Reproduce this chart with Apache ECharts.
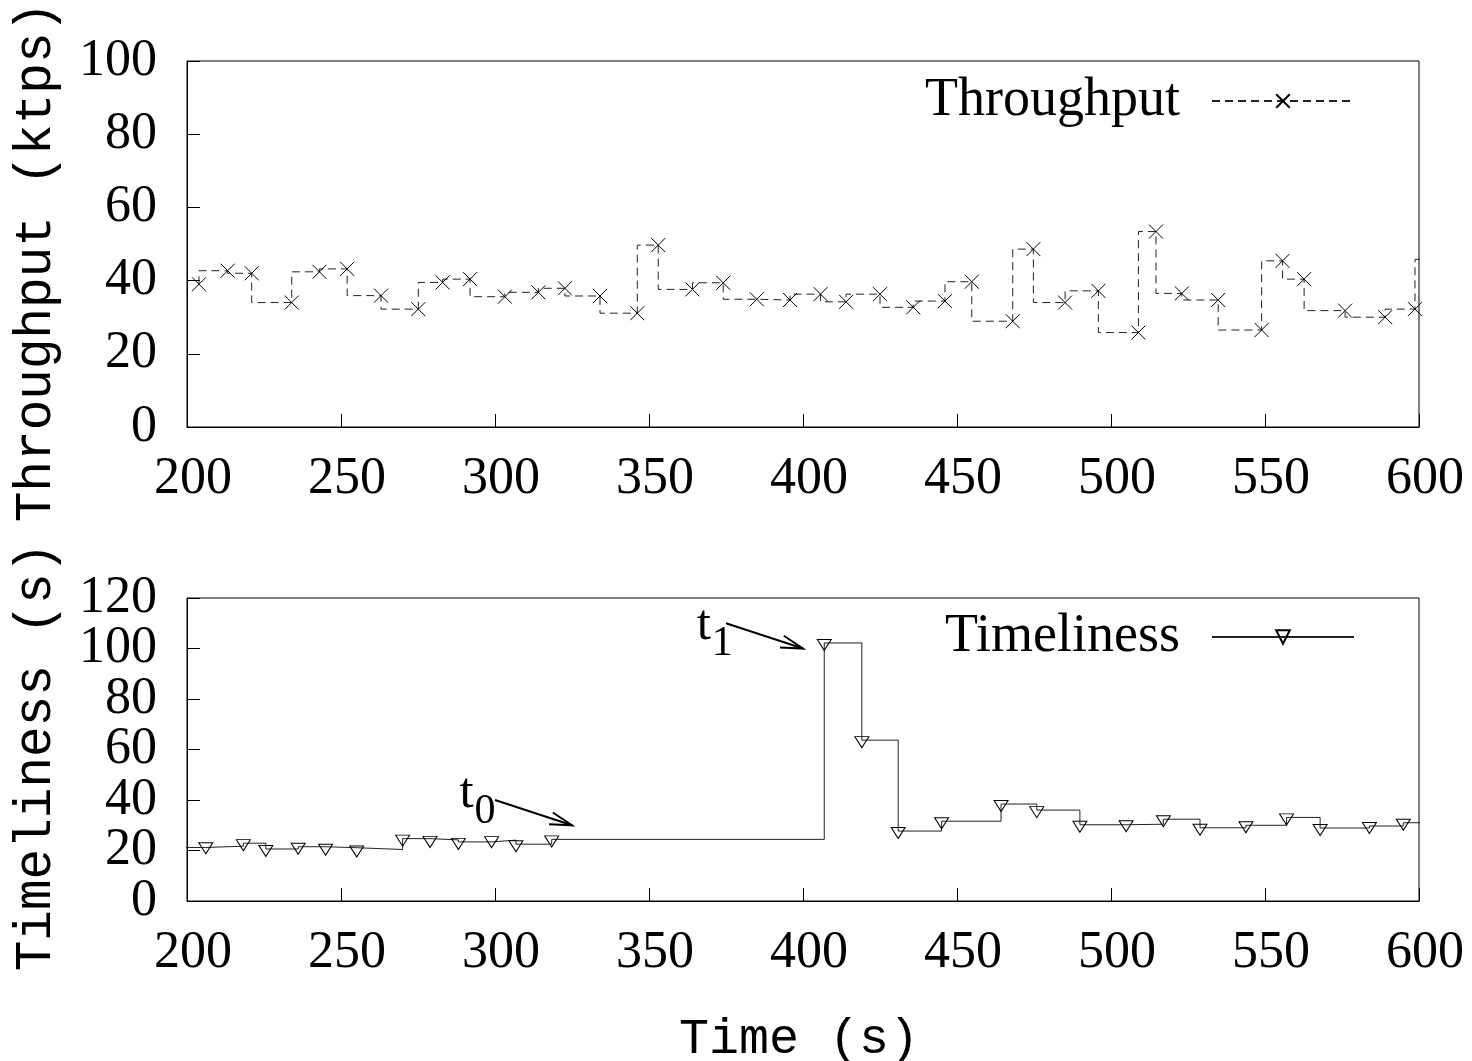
<!DOCTYPE html>
<html><head><meta charset="utf-8">
<script src="https://cdn.jsdelivr.net/npm/echarts@6/dist/echarts.min.js"></script>
<style>html,body{margin:0;padding:0;background:#fff}#c{width:1472px;height:1061px}</style>
</head><body><div id="c"></div>
<script>
// ---- data ----
const throughputTime = [203.9,213.2,221.0,234.0,243.0,252.0,263.0,275.1,283.0,291.9,303.2,314.1,322.7,334.1,346.2,353.0,364.1,374.1,385.0,395.8,405.7,414.0,425.0,435.8,446.1,454.8,468.1,474.8,485.1,495.9,508.9,514.6,523.0,534.8,548.9,555.7,562.7,576.0,589.0,598.7,608.0];
const throughputValues = [39.0,42.7,42.0,34.0,42.4,43.2,35.9,32.2,39.5,40.4,35.6,36.8,37.9,35.8,31.1,49.7,37.6,39.4,34.9,34.7,36.3,34.2,36.3,32.7,34.4,39.7,28.9,48.6,34.0,37.2,25.8,53.4,36.5,34.7,26.5,45.4,40.4,31.8,30.0,32.2,45.8];
const timelinessTime = [195.0,206.1,218.3,225.6,236.1,245.0,255.1,270.0,278.9,288.1,298.9,306.8,318.4,406.9,419.1,430.9,445.0,464.3,475.9,489.9,504.9,517.0,528.9,543.8,557.0,567.9,583.9,594.9,606.0];
const timelinessValues = [21.2,21.7,22.9,20.6,21.5,21.1,20.4,24.7,24.2,23.4,24.1,22.5,24.4,102.2,63.7,27.7,31.6,38.4,36.0,30.2,30.4,32.4,29.0,30.0,33.1,28.9,29.7,31.0,31.0];
const xTickRange = [200, 600, 50];
const throughputTickRange = [0, 100, 20];
const timelinessTickRange = [0, 120, 20];
const seriesNames = ['Throughput', 'Timeliness'];
const axisTitles = ['Throughput (ktps)', 'Timeliness (s)', 'Time (s)'];
// annotations in data coordinates: label position, arrow from, arrow to
const annotT0 = {grid:1, label:[288.5, 42.4], sub:'0', from:[300, 40], to:[325, 30]};
const annotT1 = {grid:1, label:[365.5, 108.9], sub:'1', from:[375, 110], to:[400, 100]};

const SERIF = '"Liberation Serif", "Times New Roman", serif';
const MONO = '"Liberation Mono", "DejaVu Sans Mono", monospace';

const chart = echarts.init(document.getElementById('c'), null, {renderer:'canvas'});

function xAxisCfg(gi){
  return {type:'value', gridIndex:gi, min:xTickRange[0], max:xTickRange[1], interval:xTickRange[2],
    axisLine:{show:true, lineStyle:{color:'#000', width:1}},
    axisTick:{show:true, inside:true, length:13, lineStyle:{color:'#000', width:1}},
    axisLabel:{margin:30, fontSize:52, fontFamily:SERIF, color:'#000', lineHeight:44,
      padding:[0,0,0,12]},
    splitLine:{show:false}};
}
// labelFilter: which tick values this axis prints (the bottom axis is split over two
// overlaid axes so that the library's label-overlap thinning keeps all of them)
function yAxisCfg(gi, r, labelFilter, showLine, forceEnds){
  return {type:'value', gridIndex:gi, position:'left', min:r[0], max:r[1], interval:r[2],
    axisLine:{show:showLine, lineStyle:{color:'#000', width:1}},
    axisTick:{show:showLine, inside:true, length:13, lineStyle:{color:'#000', width:1}},
    axisLabel:{margin:30, fontSize:52, fontFamily:SERIF, color:'#000',
      showMinLabel:forceEnds, showMaxLabel:forceEnds, hideOverlap:false,
      formatter: v => labelFilter(v) ? String(v) : ''},
    splitLine:{show:false}};
}
const xMarker = 'path://M0,0L10,10M10,0L0,10';
const triMarker = 'path://M0,0L12,0L6,10Z';

const option = {
  animation:false,
  backgroundColor:'#fff',
  grid:[
    {left:187, top:61, width:1232, height:366, show:true, borderColor:'#000', borderWidth:1, backgroundColor:'transparent'},
    {left:187, top:598, width:1232, height:303, show:true, borderColor:'#000', borderWidth:1, backgroundColor:'transparent'}
  ],
  xAxis:[xAxisCfg(0), xAxisCfg(1)],
  yAxis:[
    yAxisCfg(0, throughputTickRange, v => true, true, true),
    yAxisCfg(1, timelinessTickRange, v => v % 40 === 0, true, true),
    yAxisCfg(1, timelinessTickRange, v => v % 40 !== 0, false, false)
  ],
  legend:[
    {data:[seriesNames[0]], right:117, top:74, padding:0, align:'right', selectedMode:false,
     itemWidth:142, itemHeight:17, formatter: n => n + '  ',
     textStyle:{fontSize:54, fontFamily:SERIF, color:'#000'}},
    {data:[seriesNames[1]], right:117, top:610, padding:0, align:'right', selectedMode:false,
     itemWidth:142, itemHeight:17, formatter: n => n + '  ',
     textStyle:{fontSize:54, fontFamily:SERIF, color:'#000'}}
  ],
  series:[
    {name:seriesNames[0], type:'line', xAxisIndex:0, yAxisIndex:0, step:'start',
     data: throughputTime.map((t,i)=>[t, throughputValues[i]]),
     symbol:xMarker, symbolSize:14, showSymbol:true, showAllSymbol:true, clip:true,
     lineStyle:{color:'#222', width:1, type:[8,5]},
     itemStyle:{color:'rgba(0,0,0,0)', borderColor:'#000', borderWidth:1}},
    {name:seriesNames[1], type:'line', xAxisIndex:1, yAxisIndex:1, step:'end',
     data: timelinessTime.map((t,i)=>[t, timelinessValues[i]]),
     symbol:triMarker, symbolSize:[14,11], symbolOffset:[0,2], showSymbol:true, showAllSymbol:true, clip:true,
     lineStyle:{color:'#222', width:1},
     itemStyle:{color:'rgba(0,0,0,0)', borderColor:'#000', borderWidth:1}}
  ]
};
chart.setOption(option);

function txt(x, y, text, font, rot, align){
  return {type:'text', x:x, y:y, rotation:rot||0, silent:true,
    style:{text:text, font:font, fill:'#000', align:align||'center', verticalAlign:'middle',
           textAlign:align||'center', textVerticalAlign:'middle'}};
}
function arrowEls(a){
  const p0 = chart.convertToPixel({gridIndex:a.grid}, a.from);
  const p1 = chart.convertToPixel({gridIndex:a.grid}, a.to);
  const dx = p1[0]-p0[0], dy = p1[1]-p0[1];
  const ang = Math.atan2(dy, dx);
  const L = 23, w = 0.27;
  const h1 = [p1[0]-L*Math.cos(ang-w), p1[1]-L*Math.sin(ang-w)];
  const h2 = [p1[0]-L*Math.cos(ang+w), p1[1]-L*Math.sin(ang+w)];
  const lp = chart.convertToPixel({gridIndex:a.grid}, a.label);
  return [
    {type:'polyline', silent:true, shape:{points:[p0,p1]}, style:{stroke:'#000', lineWidth:2, fill:null}},
    {type:'polyline', silent:true, shape:{points:[h1,p1,h2]}, style:{stroke:'#000', lineWidth:2, fill:null}},
    txt(lp[0], lp[1], 't', '51px ' + SERIF, 0, 'left'),
    txt(lp[0]+15, lp[1]+18, a.sub, '42px ' + SERIF, 0, 'left')
  ];
}
const graphics = [
  txt(36, 262, axisTitles[0], '51px ' + MONO, Math.PI/2),
  txt(36, 757, axisTitles[1], '51px ' + MONO, Math.PI/2),
  txt(799, 1040, axisTitles[2], '50px ' + MONO, 0)
].concat(arrowEls(annotT0), arrowEls(annotT1));
chart.setOption({graphic: graphics});
</script>
</body></html>
